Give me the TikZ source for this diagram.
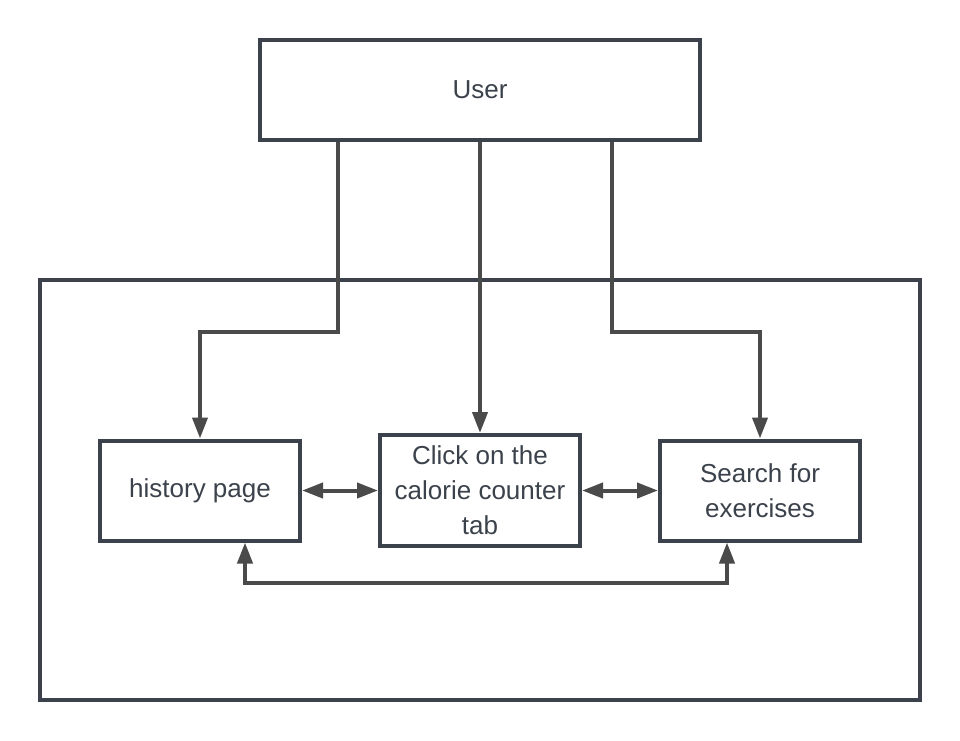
\documentclass[tikz,border=0pt]{standalone}
\usepackage{fontspec}
\setmainfont{Liberation Sans}
\usetikzlibrary{positioning, arrows.meta}
\definecolor{boxline}{HTML}{3B424B}
\definecolor{arrline}{HTML}{4A4A4A}
\begin{document}
\begin{tikzpicture}[
    x=1pt, y=-1pt, ->, >={Triangle[length=21pt, width=15pt]},
    every node/.style={font=\fontsize{26}{35}\selectfont, text=boxline},
    block/.style={draw=boxline, line width=4pt, fill=white, align=center,
        minimum width=200pt, minimum height=100pt, inner sep=2pt},
    link/.style={draw=arrline, line width=4pt}
]
    \useasboundingbox (0,0) rectangle (960,740);

    % Frame and boxes
    \node[block, minimum width=880pt, minimum height=420pt] (sys) at (480,490) {};
    \node[block, minimum width=440pt, minimum height=100pt] (user) at (480,90) {User};
    \node[block, minimum height=111pt] (click) at (480,490.5) {Click on the\\calorie counter\\tab};
    \node[block, left=76pt of click] (hist) {history page};
    \node[block, right=76pt of click] (search) {Search for\\exercises};

    % Links
    \draw[link] ([xshift=-142pt]user.south) -- ++(0,190) -| (hist.north);
    \draw[link] (user.south) -- (click.north);
    \draw[link] ([xshift=132pt]user.south) -- ++(0,190) -| (search.north);
    \draw[link, <->] (hist) -- (click);
    \draw[link, <->] (click) -- (search);
    \draw[link, <->] ([xshift=45pt]hist.south) -- ++(0,40) -| ([xshift=-33pt]search.south);

\end{tikzpicture}
\end{document}
